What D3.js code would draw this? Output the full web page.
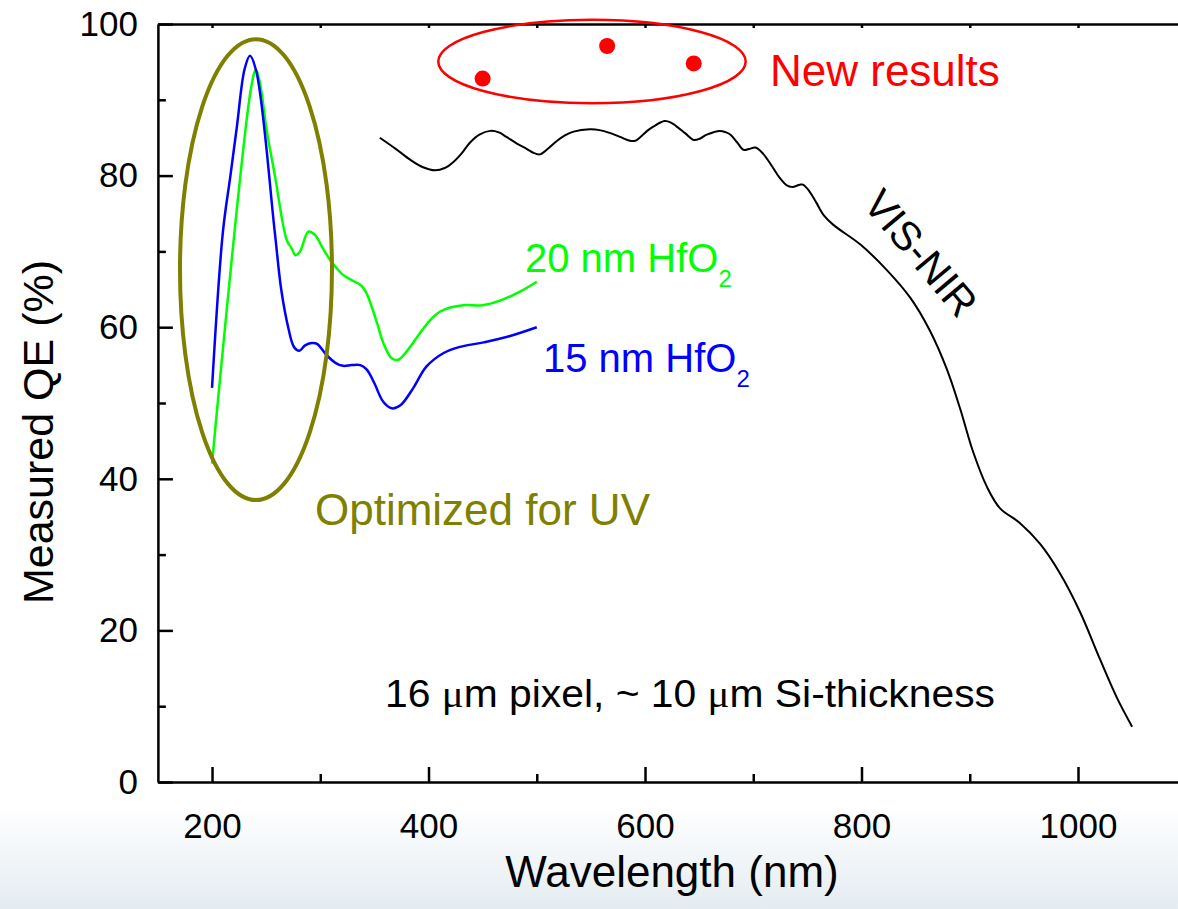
<!DOCTYPE html>
<html>
<head>
<meta charset="utf-8">
<script src="https://cdn.jsdelivr.net/npm/d3@7"></script>
<style>
  body { margin: 0; background: #fff; }
  svg { display: block; font-family: "Liberation Sans", Arial, sans-serif; }
</style>
</head>
<body>
<svg width="1178" height="909"></svg>
<script>
// 15 nm HfO2 (blue)
const blueNm = [200, 210, 217, 223, 230, 235, 241, 258, 264, 270.5, 275.7, 280.7, 286, 292, 297, 306, 314, 321, 329, 337, 343, 350, 358, 366, 374, 386, 398, 414, 429, 451, 472, 500];
const blueQE = [52, 72.5, 80, 86.5, 94, 95.8, 93.7, 72.5, 64.9, 59.9, 57.4, 56.9, 57.6, 57.9, 57.8, 56.3, 55.3, 54.9, 55.0, 55.0, 54.4, 52.6, 50.2, 49.3, 49.7, 52.0, 54.8, 56.6, 57.4, 58.0, 58.7, 60];

// 20 nm HfO2 (green)
const greenNm = [200, 236, 240.6, 244.3, 250.5, 258.2, 269, 273.6, 277, 281.3, 289, 295, 302, 309, 315, 321, 329, 337, 342, 347.5, 353, 358.3, 366, 372, 383, 392, 401.4, 410, 420, 432, 450, 466, 484.5, 500];
const greenQE = [42, 91.5, 94.0, 92.2, 86.0, 79.9, 71.5, 70.4, 69.5, 70.0, 72.6, 72.2, 70.5, 68.9, 67.8, 66.9, 66.2, 65.6, 64.7, 62.7, 60.3, 57.9, 55.9, 55.7, 57.4, 59.2, 60.9, 62.0, 62.6, 62.9, 62.9, 63.5, 64.7, 66.0];

// VIS-NIR (black)
const visNm = [355, 370, 383, 395, 406, 415, 423, 431, 438, 447, 457, 465, 472, 482, 491, 497, 503, 510, 518, 526, 534, 549, 558, 568, 577, 586, 591, 595, 602, 608, 618, 624, 629, 637, 645, 651, 657, 669, 675, 679, 685, 691, 696, 702, 709, 717, 725, 731, 736, 743, 746, 752, 758, 765, 774, 799, 823, 845, 863, 879, 891, 903, 916, 928, 946, 965, 983, 1002, 1020, 1036, 1050];
const visQE = [85.0, 83.5, 82.1, 81.1, 80.7, 81.0, 81.8, 83.0, 84.3, 85.4, 85.9, 85.7, 85.1, 84.2, 83.5, 83.0, 82.8, 83.5, 84.5, 85.3, 85.8, 86.1, 86.0, 85.6, 85.1, 84.6, 84.6, 85.0, 85.9, 86.5, 87.2, 87.0, 86.5, 85.6, 84.7, 84.9, 85.4, 85.9, 85.7, 85.4, 84.4, 83.4, 83.5, 83.7, 82.9, 81.3, 79.6, 78.7, 78.5, 78.8, 78.8, 77.9, 76.5, 74.8, 73.5, 70.9, 67.6, 63.9, 59.6, 54.4, 49.3, 43.6, 38.9, 36.1, 34.2, 31.4, 27.6, 22.4, 16.3, 11.1, 7.3];

// new results (red dots)
const newNm = [450, 565, 645];
const newQE = [92.8, 97.1, 94.8];

// ticks
const xMajor = [200, 400, 600, 800, 1000];
const xMinor = [300, 500, 700, 900];
const xTop = [200, 300, 400, 500, 600, 700, 800, 900, 1000, 1100];
const yMajor = [0, 20, 40, 60, 80, 100];
const yMinor = [10, 30, 50, 70, 90];

var svg = d3.select("svg");

// faint slide background at the bottom
var defs = svg.append("defs");
var grad = defs.append("linearGradient")
    .attr("id", "bg").attr("x1", 0).attr("y1", 0).attr("x2", 0).attr("y2", 1);
grad.append("stop").attr("offset", "0%").attr("stop-color", "#ffffff");
grad.append("stop").attr("offset", "100%").attr("stop-color", "#e4ecf1");
svg.append("rect")
    .attr("x", 0).attr("y", 805).attr("width", 1178).attr("height", 104)
    .attr("fill", "url(#bg)");

var x = d3.scaleLinear().domain([150, 1100]).range([157.9, 1186.25]);
var y = d3.scaleLinear().domain([0, 100]).range([782, 24]);

// axes
var axisStyle = function (g) {
    g.selectAll(".domain").attr("stroke", "#000").attr("stroke-width", 2.5);
    g.selectAll(".tick line").attr("stroke", "#000").attr("stroke-width", 2.5);
    g.selectAll(".tick text").attr("fill", "#000").style("font-size", "35px")
        .style("font-family", "'Liberation Sans', Arial, sans-serif");
};

svg.append("g")
    .attr("transform", "translate(0," + y(0) + ")")
    .call(d3.axisBottom(x).tickValues(xMajor).tickFormat(d3.format("d"))
        .tickSizeInner(-15).tickSizeOuter(0).tickPadding(31))
    .call(axisStyle);

svg.append("g")
    .attr("transform", "translate(0," + y(0) + ")")
    .call(d3.axisBottom(x).tickValues(xMinor).tickSizeInner(-8).tickSizeOuter(0).tickFormat(""))
    .call(axisStyle)
    .select(".domain").remove();

svg.append("g")
    .attr("transform", "translate(0," + y(100) + ")")
    .call(d3.axisTop(x).tickValues(xTop).tickSizeInner(-4).tickSizeOuter(0).tickFormat(""))
    .call(axisStyle);

svg.append("g")
    .attr("transform", "translate(" + x(150) + ",0)")
    .call(d3.axisLeft(y).tickValues(yMajor).tickFormat(d3.format("d"))
        .tickSizeInner(-15).tickSizeOuter(0).tickPadding(20))
    .call(axisStyle);

svg.append("g")
    .attr("transform", "translate(" + x(150) + ",0)")
    .call(d3.axisLeft(y).tickValues(yMinor).tickSizeInner(-8).tickSizeOuter(0).tickFormat(""))
    .call(axisStyle)
    .select(".domain").remove();

// axis titles
svg.append("text")
    .attr("x", 672).attr("y", 887)
    .attr("text-anchor", "middle")
    .style("font-size", "44px")
    .text("Wavelength (nm)");

svg.append("text")
    .attr("transform", "translate(53,432) rotate(-90)")
    .attr("text-anchor", "middle")
    .style("font-size", "43px")
    .text("Measured QE (%)");

// curves
var line = d3.line()
    .x(function (d) { return x(d[0]); })
    .y(function (d) { return y(d[1]); })
    .curve(d3.curveCatmullRom.alpha(0.5));

svg.append("path")
    .datum(d3.zip(visNm, visQE))
    .attr("fill", "none").attr("stroke", "#000").attr("stroke-width", 2)
    .attr("d", line);

svg.append("path")
    .datum(d3.zip(greenNm, greenQE))
    .attr("fill", "none").attr("stroke", "#00ff00").attr("stroke-width", 2.5)
    .attr("d", line);

svg.append("path")
    .datum(d3.zip(blueNm, blueQE))
    .attr("fill", "none").attr("stroke", "#0000ff").attr("stroke-width", 2.5)
    .attr("d", line);

// UV ellipse
svg.append("ellipse")
    .attr("cx", x(240.6)).attr("cy", y(67.6))
    .attr("rx", x(240.6) - x(170.4)).attr("ry", y(37.2) - y(67.6))
    .attr("fill", "none").attr("stroke", "#808000").attr("stroke-width", 4);

// new results
svg.append("ellipse")
    .attr("cx", x(551)).attr("cy", y(95.05))
    .attr("rx", x(551) - x(409)).attr("ry", y(89.55) - y(95.05))
    .attr("fill", "none").attr("stroke", "#ff0000").attr("stroke-width", 2.5);

svg.selectAll("circle.new")
    .data(d3.zip(newNm, newQE))
    .enter()
    .append("circle")
    .attr("class", "new")
    .attr("cx", function (d) { return x(d[0]); })
    .attr("cy", function (d) { return y(d[1]); })
    .attr("r", 8)
    .attr("fill", "#ff0000");

// annotations
svg.append("text")
    .attr("x", 770).attr("y", 86)
    .attr("fill", "#ff0000")
    .style("font-size", "44px")
    .text("New results");

var t20 = svg.append("text")
    .attr("x", 525).attr("y", 272)
    .attr("fill", "#00ff00")
    .style("font-size", "40px");
t20.append("tspan").text("20 nm HfO");
t20.append("tspan").attr("dy", 15).style("font-size", "24px").text("2");

var t15 = svg.append("text")
    .attr("x", 543).attr("y", 372)
    .attr("fill", "#0000ff")
    .style("font-size", "40px");
t15.append("tspan").text("15 nm HfO");
t15.append("tspan").attr("dy", 15).style("font-size", "24px").text("2");

svg.append("text")
    .attr("x", 315).attr("y", 525)
    .attr("fill", "#808000")
    .style("font-size", "44px")
    .text("Optimized for UV");

svg.append("text")
    .attr("transform", "translate(921,253) rotate(50)")
    .attr("text-anchor", "middle")
    .attr("dy", "0.35em")
    .style("font-size", "41px")
    .text("VIS-NIR");

var note = svg.append("text")
    .attr("x", 385).attr("y", 707)
    .attr("textLength", 610)
    .attr("lengthAdjust", "spacingAndGlyphs")
    .style("font-size", "38px");
note.append("tspan").text("16 ");
note.append("tspan").style("font-family", "'Liberation Serif', 'Times New Roman', serif").text("\u03bc");
note.append("tspan").text("m pixel, ~ 10 ");
note.append("tspan").style("font-family", "'Liberation Serif', 'Times New Roman', serif").text("\u03bc");
note.append("tspan").text("m Si-thickness");
</script>
</body>
</html>
